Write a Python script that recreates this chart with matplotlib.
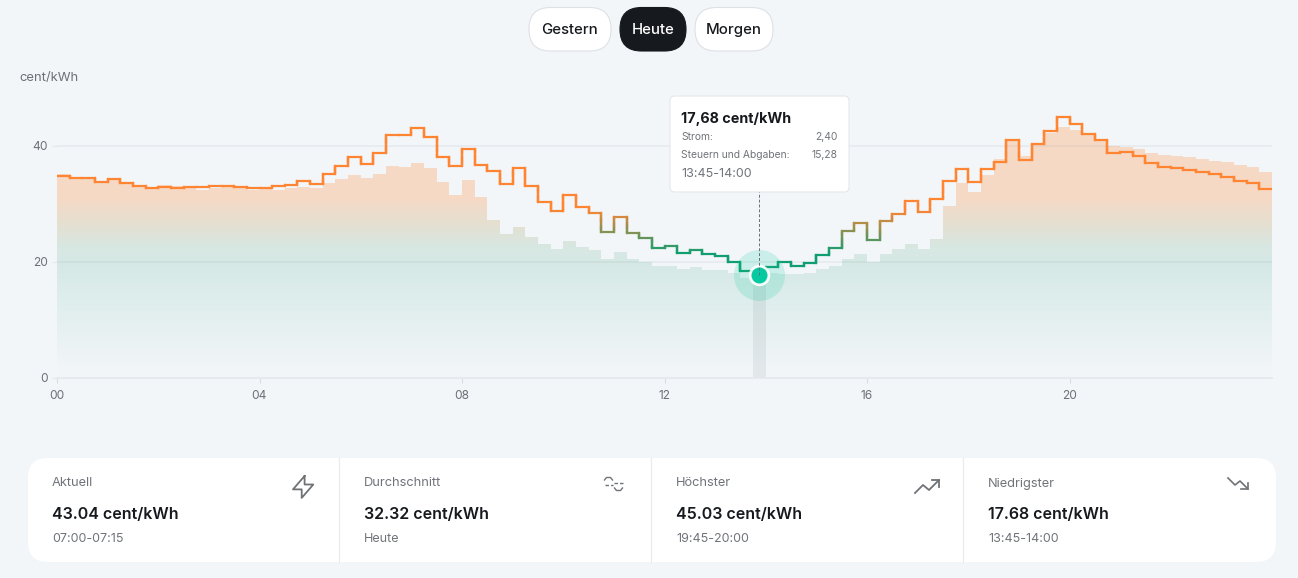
import numpy as np
import matplotlib
matplotlib.use('Agg')
import matplotlib.pyplot as plt
from matplotlib.collections import LineCollection
from matplotlib.patches import FancyBboxPatch, PathPatch
from matplotlib.path import Path

# --- data (15 min bins) ---
total_price = [
    34.8, 34.5, 34.5, 33.8, 34.2, 33.6, 33.1, 32.75, 32.9, 32.8, 32.85, 32.85,
    33.0, 33.1, 32.9, 32.75, 32.75, 33.0, 33.3, 34.0, 33.4, 35.1, 36.6, 38.1,
    36.8, 38.7, 41.8, 41.9, 43.04, 41.55, 38.1, 36.6, 39.5, 36.7, 35.6, 33.4,
    36.1, 33.1, 30.3, 28.7, 31.5, 29.5, 28.4, 25.2, 27.7, 25.0, 24.1, 22.4,
    22.7, 21.5, 22.1, 21.3, 21.05, 20.0, 18.4, 17.68, 19.0, 20.0, 19.3, 19.7,
    21.2, 22.3, 25.3, 26.7, 23.8, 27.05, 28.3, 30.4, 28.6, 30.85, 33.9, 36.0,
    33.85, 36.0, 37.2, 41.0, 37.6, 40.3, 42.6, 45.03, 43.8, 42.1, 41.0, 38.7,
    39.0, 38.2, 37.1, 36.3, 36.25, 35.9, 35.5, 35.2, 34.65, 34.0, 33.6, 32.5,
]
area_price = [
    35.2, 34.7, 34.65, 33.7, 34.35, 33.5, 33.0, 32.6, 33.2, 33.0, 32.75, 32.45,
    32.8, 33.2, 32.65, 32.45, 32.5, 32.45, 32.65, 32.9, 32.8, 33.55, 34.3, 34.9,
    34.5, 35.2, 36.5, 36.4, 37.1, 36.15, 33.7, 31.6, 34.1, 31.1, 27.2, 24.8,
    26.0, 24.2, 23.0, 22.2, 23.5, 22.6, 22.0, 20.55, 21.7, 20.4, 20.0, 19.2,
    19.2, 18.7, 19.0, 18.5, 18.5, 18.1, 17.1, 17.0, 18.0, 17.8, 17.8, 18.1,
    18.7, 19.2, 20.55, 21.3, 19.9, 21.4, 22.2, 23.0, 22.2, 23.9, 29.7, 33.6,
    32.05, 34.9, 37.75, 41.0, 38.2, 40.2, 42.3, 43.3, 42.7, 41.9, 41.1, 39.95,
    39.8, 39.5, 38.8, 38.4, 38.3, 38.05, 37.8, 37.4, 37.2, 36.65, 36.4, 35.5,
]
hour_ticks = [0, 4, 8, 12, 16, 20]
hour_labels = ['00', '04', '08', '12', '16', '20']
price_ticks = [0, 20, 40]
selected_bin = 55

pill_labels = ['Gestern', 'Heute', 'Morgen']
card_titles = ['Aktuell', 'Durchschnitt', 'Höchster', 'Niedrigster']
card_values = ['43.04 cent/kWh', '32.32 cent/kWh', '45.03 cent/kWh', '17.68 cent/kWh']
card_notes = ['07:00-07:15', 'Heute', '19:45-20:00', '13:45-14:00']

# --- style ---
BG = '#f2f6f9'
AXIS_GREY = '#e6eaee'
TICK_TEXT = '#6e7079'
DARK = '#16191d'
MUTED = '#70747a'
W, H = 1298, 578
FONT = 'Inter'
plt.rcParams['font.family'] = [FONT, 'DejaVu Sans']


def px(size):
    # font size in pixels -> points at dpi 100
    return size * 0.72


fig = plt.figure(figsize=(W / 100, H / 100), dpi=100, facecolor=BG)

# chart axes placed on pixel positions of the reference
left, right, top, bottom = 57, 1272, 99.6, 377.5
ax = fig.add_axes([left / W, 1 - bottom / H, (right - left) / W, (bottom - top) / H])
ax.set_facecolor('none')

edges = np.arange(len(total_price) + 1) * 0.25
step_x = np.repeat(edges, 2)[1:-1]
area_y = np.repeat(area_price, 2)
total_y = np.repeat(total_price, 2)

# vertical gradient of the area, clipped to the stepped outline
grad_y = np.array([0, 1.8, 7.6, 13.3, 19, 22.5, 26, 30.6, 48])
grad_rgb = np.array([
    [242, 246, 249], [241, 245, 248], [232, 241, 241], [222, 238, 236], [214, 233, 230],
    [216, 231, 226], [227, 224, 210], [245, 218, 198], [247, 217, 195],
]) / 255
rows = np.linspace(48, 0, 480)
grad_img = np.stack([np.interp(rows, grad_y, grad_rgb[:, i]) for i in range(3)], axis=1)[:, None, :]
img = ax.imshow(grad_img, extent=[0, 24, 0, 48], aspect='auto', zorder=1)
outline = Path(np.column_stack([np.r_[0, step_x, 24], np.r_[0, area_y, 0]]))
clip = PathPatch(outline, transform=ax.transData, fc='none', ec='none')
ax.add_patch(clip)
img.set_clip_path(clip)

# highlighted bin
ax.bar(edges[selected_bin], area_price[selected_bin], width=0.25, align='edge',
       color='#6c7680', alpha=0.11, zorder=2)

# price line, colour follows the value
line_x, line_y = [], []
for i in range(len(step_x) - 1):
    n = max(2, int(abs(total_y[i + 1] - total_y[i]) / 0.2) + 2)
    line_x.extend(np.linspace(step_x[i], step_x[i + 1], n)[:-1])
    line_y.extend(np.linspace(total_y[i], total_y[i + 1], n)[:-1])
line_x.append(step_x[-1])
line_y.append(total_y[-1])
line_x, line_y = np.array(line_x), np.array(line_y)
points = np.column_stack([line_x, line_y])
segments = np.stack([points[:-1], points[1:]], axis=1)
mid_y = (line_y[:-1] + line_y[1:]) / 2
orange = np.array([255, 133, 51]) / 255
green = np.array([16, 158, 112]) / 255
mix = np.clip((mid_y - 21.5) / 7.5, 0, 1)[:, None]
ax.add_collection(LineCollection(segments, colors=mix * orange + (1 - mix) * green,
                                 linewidths=1.6, capstyle='projecting', zorder=4))

# grid and axes
ax.set_xlim(0, 24)
ax.set_ylim(0, 48)
for v in price_ticks[1:]:
    ax.axhline(v, color='#5f7080', alpha=0.07, lw=1.4, zorder=3)
for side in ['top', 'right', 'left']:
    ax.spines[side].set_visible(False)
ax.spines['bottom'].set_color(AXIS_GREY)
ax.spines['bottom'].set_linewidth(1.4)
ax.set_xticks(hour_ticks)
ax.set_xticklabels(hour_labels)
ax.set_yticks(price_ticks)
ax.tick_params(axis='x', length=3.6, width=0.8, color='#d8dde2', labelcolor=TICK_TEXT,
               labelsize=px(12), pad=5.5)
ax.tick_params(axis='y', length=3.6, width=1, color=AXIS_GREY, labelcolor=TICK_TEXT,
               labelsize=px(12), pad=3)

# marker of the selected bin
sel_x = (edges[selected_bin] + edges[selected_bin + 1]) / 2
sel_y = total_price[selected_bin]
ax.vlines(sel_x, sel_y, 32.2, color='#6a6f75', lw=0.7, linestyles=(0, (3, 2)), zorder=7)
ax.scatter([sel_x], [sel_y], s=(51 * 0.72) ** 2, color='#05c9a0', alpha=0.17, lw=0, zorder=5, clip_on=False)
ax.scatter([sel_x], [sel_y], s=(21.5 * 0.72) ** 2, color='white', alpha=0.9, lw=0, zorder=6)
ax.scatter([sel_x], [sel_y], s=(16 * 0.72) ** 2, color='#05c9a0', lw=0, zorder=6)

# --- page elements in pixel coordinates ---
ui = fig.add_axes([0, 0, 1, 1], zorder=5)
ui.set_xlim(0, W)
ui.set_ylim(H, 0)
ui.axis('off')
ui.patch.set_alpha(0)


def round_box(x0, y0, x1, y1, r, fc, ec='none', lw=0.8):
    ui.add_patch(FancyBboxPatch((x0, y0), x1 - x0, y1 - y0, boxstyle=f'round,pad=0,rounding_size={r}',
                                fc=fc, ec=ec, lw=lw))


# pills
pill_boxes = [(529, 611), (620, 686), (695, 773)]
for label, (x0, x1) in zip(pill_labels, pill_boxes):
    active = label == 'Heute'
    round_box(x0, 7.5, x1, 51, 21.5, '#16191d' if active else 'white', '#16191d' if active else '#dde1e6')
    ui.text((x0 + x1) / 2, 33.8, label, ha='center', va='baseline', fontsize=px(14.9),
            fontweight='medium', color='white' if active else DARK)

ui.text(19, 80.8, 'cent/kWh', ha='left', va='baseline', fontsize=px(13), color=TICK_TEXT)

# tooltip
round_box(670, 96, 849, 192, 5, 'white', '#e4e7eb')
ui.text(681, 122.5, '17,68 cent/kWh', ha='left', va='baseline', fontsize=px(14.4), fontweight='bold', color=DARK)
ui.text(681, 140.5, 'Strom:', ha='left', va='baseline', fontsize=px(10.3), color=MUTED)
ui.text(837.5, 140.5, '2,40', ha='right', va='baseline', fontsize=px(10.3), color=MUTED)
ui.text(681, 158.5, 'Steuern und Abgaben:', ha='left', va='baseline', fontsize=px(10.3), color=MUTED)
ui.text(837.5, 158.5, '15,28', ha='right', va='baseline', fontsize=px(10.3), color=MUTED)
ui.text(681, 177, '13:45-14:00', ha='left', va='baseline', fontsize=px(12.5), color=MUTED)

# stat cards
round_box(28, 458, 1276, 562, 20, 'white')
for x in [339, 651, 963]:
    ui.plot([x, x], [458, 562], color='#e8ebee', lw=0.8)
for x, title, value, note in zip([52, 364, 676, 988], card_titles, card_values, card_notes):
    ui.text(x, 486.5, title, ha='left', va='baseline', fontsize=px(12.8), color=MUTED)
    ui.text(x, 519, value, ha='left', va='baseline', fontsize=px(16), fontweight='semibold', color=DARK)
    ui.text(x, 542.5, note, ha='left', va='baseline', fontsize=px(12.5), color=MUTED)

# card icons
ICON = '#6f7377'
bolt = np.array([[13, 3], [13, 10], [19, 10], [11, 21], [11, 14], [5, 14], [13, 3]]) * [1.45, 1.22] + [285.75, 472.3]
ui.plot(bolt[:, 0], bolt[:, 1], color=ICON, lw=1.3, solid_joinstyle='round')
ui.plot([604.5, 606.5, 610.5, 612.5], [480, 477.5, 477.5, 480], color=ICON, lw=1)
ui.plot([604.5, 612.5], [484.5, 484.5], color=ICON, lw=1, ls=(0, (2.5, 1.5)))
ui.plot([614, 622.5], [483, 483], color=ICON, lw=1, ls=(0, (2.5, 1.5)))
ui.plot([614.5, 616.5, 620.5, 622.5], [488, 490.5, 490.5, 488], color=ICON, lw=1)
ui.plot([915, 923, 929, 939], [493, 485, 490, 480], color=ICON, lw=1.3)
ui.plot([932, 939, 939], [480, 480, 487], color=ICON, lw=1.3)
ui.plot([1228, 1235, 1240, 1248], [478, 485, 481, 489], color=ICON, lw=1.2)
ui.plot([1248, 1248, 1241], [483, 489, 489], color=ICON, lw=1.2)

fig.savefig('out.png', dpi=100, facecolor=BG)
plt.close(fig)
